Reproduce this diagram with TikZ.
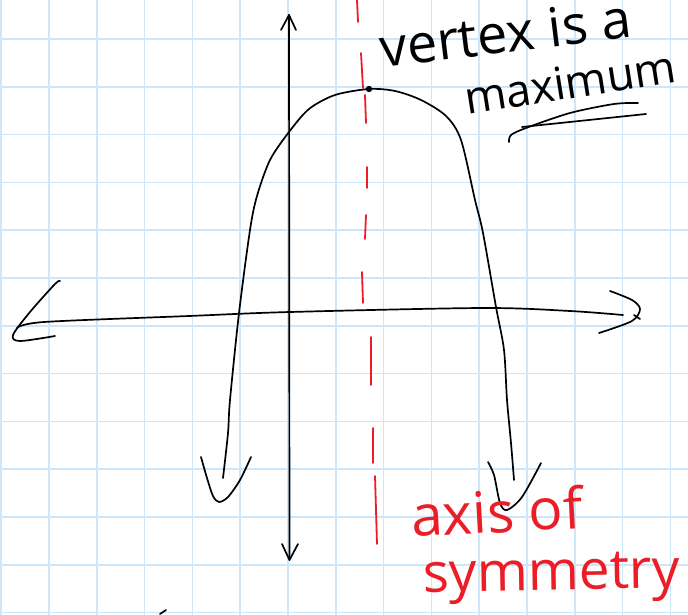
\documentclass[tikz,border=0pt]{standalone}
\usepackage{fontspec}
\setmainfont{Open Sans}
\definecolor{gridblue}{RGB}{204,230,250}
\definecolor{penred}{RGB}{235,30,40}
\tikzset{
  gridline/.style={draw=gridblue,line width=1.5pt},
  ink/.style={draw=black,line width=1.7pt,line cap=round,line join=round},
  redink/.style={draw=penred,line width=1.8pt,line cap=round},
  blacktext/.style={inner sep=0pt,anchor=base west,text=black},
  redtext/.style={inner sep=0pt,anchor=base west,text=penred}
}
\begin{document}
\begin{tikzpicture}[x=1pt,y=-1pt]
\useasboundingbox (0,0) rectangle (688,615);
\fill[white] (0,0) rectangle (688,615);
% grid
\foreach \i in {0,...,14} {\draw[gridline] ({1.2+47.8*\i},0) -- ({1.2+47.8*\i},615);}
\foreach \j in {0,...,12} {\draw[gridline] (0,{39+47.8*\j}) -- (688,{39+47.8*\j});}
% axis of symmetry (red dashes)
\draw[redink] (357,0) -- (358,22);
\draw[redink] (361,53) -- (363,88);
\draw[redink] (365,95) -- (366,123);
\draw[redink] (367,167) -- (367,188);
\draw[redink] (366,215) -- (365,239);
\draw[redink] (362,272) -- (363,303);
\draw[redink] (371,337) -- (371,385);
\draw[redink] (373,428) -- (373,463);
\draw[redink] (375,476) -- (377,544);
% y axis
\draw[ink] (289,15) -- (289.5,560);
\draw[ink] (281,30) -- (289,15) -- (296,30);
\draw[ink] (282,544) -- (289.5,560) -- (298,544);
% x axis
\draw[ink] plot[smooth] coordinates {(17,328) (44,322) (189,316) (290,312) (483,308) (570,311) (623,315)};
\draw[ink] plot[smooth] coordinates {(60,281) (55,284) (30,312) (13,335) (20,341) (55,336)};
\draw[ink] plot[smooth] coordinates {(610,291) (632,300) (640,309) (632,321) (599,333)};
\draw[ink] (634,315) -- (640,319);
% parabola
\draw[ink] plot[smooth] coordinates {(223,478) (228,433) (230,400) (239,313) (250,230) (257,196) (270,160) (289,132) (309,109) (335,95) (369,89) (395,91) (421,100) (446,116) (461,140) (475,200) (483,233) (496,307) (504,350) (507,400) (511,443) (514,480)};
\fill (369,89) circle (3.2pt);
% arrowheads of the parabola
\draw[ink] plot[smooth] coordinates {(201,457) (207,478) (213,496) (219,502) (228,497) (240,480) (251,457)};
\draw[ink] plot[smooth] coordinates {(488,462) (494,475) (500,503) (507,510) (522,497) (541,463)};
% labels
\node[blacktext,rotate=7,font=\fontsize{54}{54}\selectfont] (vtx) at (382,68) {vertex is a};
\node[blacktext,rotate=9,font=\fontsize{45}{45}\selectfont] (mx) at (467,115) {maximum};
\draw[ink] plot[smooth] coordinates {(509,142) (511,135) (526,128) (570,113) (614,104) (638,103)};
\draw[ink] (522,127) -- (646,114);
\node[redtext,rotate=3,font=\fontsize{57}{57}\selectfont] (ax) at (412,537) {axis of};
\node[redtext,rotate=1,font=\fontsize{55}{55}\selectfont] (sy) at (423,592) {symmetry};
% small mark at bottom
\draw[ink] (160,614) -- (166,610);
\end{tikzpicture}
\end{document}
